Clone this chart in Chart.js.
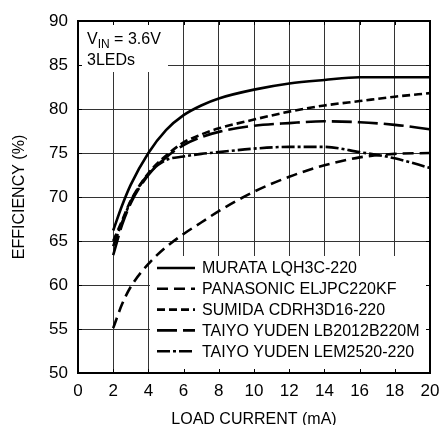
<!DOCTYPE html>
<html>
<head>
<meta charset="utf-8">
<script src="https://cdn.jsdelivr.net/npm/chart.js@4/dist/chart.umd.min.js"></script>
<style>
  html, body { margin: 0; padding: 0; background: #fff; }
  #wrap { width: 440px; height: 425px; }
</style>
</head>
<body>
<div id="wrap"><canvas id="c" width="440" height="425"></canvas></div>
<script>
// Load current (mA) at which each efficiency curve is sampled
const loadCurrent = [2, 2.5, 3, 4, 5, 6, 7, 8, 10, 12, 14, 16, 18, 20];

// Efficiency (%) for each inductor
const murata    = [66.2, 69.0, 71.4, 75.0, 77.6, 79.3, 80.4, 81.2, 82.2, 82.9, 83.3, 83.6, 83.6, 83.6];
const panasonic = [55.1, 57.8, 59.8, 62.4, 64.3, 65.8, 67.1, 68.4, 70.6, 72.3, 73.6, 74.5, 74.9, 75.0];
const sumida    = [65.0, 67.3, 69.6, 72.7, 74.7, 76.2, 77.1, 77.8, 78.8, 79.7, 80.4, 80.9, 81.4, 81.8];
const taiyoLB   = [63.4, 66.8, 69.3, 72.5, 74.5, 75.9, 76.8, 77.4, 78.1, 78.4, 78.6, 78.5, 78.2, 77.7];
const taiyoLEM  = [64.4, 67.1, 69.5, 72.6, 74.2, 74.6, 74.9, 75.1, 75.5, 75.7, 75.7, 75.1, 74.4, 73.3];

const seriesNames = [
  'MURATA LQH3C-220',
  'PANASONIC ELJPC220KF',
  'SUMIDA CDRH3D16-220',
  'TAIYO YUDEN LB2012B220M',
  'TAIYO YUDEN LEM2520-220'
];

// Axis ticks
const xTicks = [0, 2, 4, 6, 8, 10, 12, 14, 16, 18, 20];
const yTicks = [50, 55, 60, 65, 70, 75, 80, 85, 90];

const FONT = '"Liberation Sans", Arial, Helvetica, sans-serif';

const seriesValues = [murata, panasonic, sumida, taiyoLB, taiyoLEM];
const dashes = [[], [11, 6], [8, 4], [20, 6], [13, 3, 3, 3]];

const datasets = seriesValues.map((vals, i) => ({
  label: seriesNames[i],
  data: loadCurrent.map((x, k) => ({ x: x, y: vals[k] })),
  borderColor: '#000',
  borderWidth: 2.6,
  borderDash: dashes[i],
  borderCapStyle: 'butt',
  pointRadius: 0,
  fill: false,
  cubicInterpolationMode: 'monotone'
}));

// White panels, inner tick marks and the plot frame, drawn over the grid
const framePlugin = {
  id: 'frame',
  beforeDatasetsDraw(chart) {
    const { ctx, chartArea: a, scales: { x, y } } = chart;
    ctx.save();
    ctx.fillStyle = '#fff';
    // note panel (top left)
    ctx.fillRect(a.left, a.top, 90, 51);
    // legend panel (bottom right)
    ctx.fillRect(150, 256, a.right - 150, a.bottom - 256);

    ctx.strokeStyle = '#000';
    ctx.lineWidth = 1;
    const t = 4;
    ctx.beginPath();
    xTicks.forEach(v => {
      const px = Math.round(x.getPixelForValue(v)) + 0.5;
      ctx.moveTo(px, a.bottom); ctx.lineTo(px, a.bottom - t);
      ctx.moveTo(px, a.top); ctx.lineTo(px, a.top + t);
    });
    yTicks.forEach(v => {
      const py = Math.round(y.getPixelForValue(v)) + 0.5;
      ctx.moveTo(a.left, py); ctx.lineTo(a.left + t, py);
      ctx.moveTo(a.right, py); ctx.lineTo(a.right - t, py);
    });
    ctx.stroke();

    ctx.lineWidth = 2;
    ctx.strokeRect(a.left, a.top, a.right - a.left, a.bottom - a.top);
    ctx.restore();
  },
  afterDatasetsDraw(chart) {
    const { ctx } = chart;
    ctx.save();
    ctx.fillStyle = '#000';
    ctx.textBaseline = 'alphabetic';
    ctx.textAlign = 'left';

    // Test condition note
    let tx = 87;
    ctx.font = '16px ' + FONT;
    ctx.fillText('V', tx, 44);
    tx += ctx.measureText('V').width;
    ctx.font = '12px ' + FONT;
    ctx.fillText('IN', tx, 48);
    tx += ctx.measureText('IN').width;
    ctx.font = '16px ' + FONT;
    ctx.fillText(' = 3.6V', tx, 44);
    ctx.fillText('3LEDs', 87, 65);

    // Legend
    chart.data.datasets.forEach((ds, i) => {
      const cy = 268 + i * 20.8;
      ctx.beginPath();
      ctx.setLineDash(ds.borderDash);
      ctx.lineWidth = 2.6;
      ctx.strokeStyle = '#000';
      ctx.moveTo(157, cy);
      ctx.lineTo(195, cy);
      ctx.stroke();
      ctx.setLineDash([]);
      ctx.textBaseline = 'middle';
      ctx.font = '16px ' + FONT;
      ctx.fillText(ds.label, 202, cy + 1);
    });
    ctx.restore();
  }
};

new Chart(document.getElementById('c'), {
  type: 'line',
  data: { datasets: datasets },
  plugins: [framePlugin],
  options: {
    responsive: false,
    animation: false,
    layout: { padding: { top: 21, right: 10, left: 0, bottom: 0 } },
    plugins: { legend: { display: false }, tooltip: { enabled: false } },
    scales: {
      x: {
        type: 'linear',
        min: 0, max: 20,
        afterBuildTicks: s => { s.ticks = xTicks.map(v => ({ value: v })); },
        afterFit: s => { s.height = 52; s.paddingRight = 0; s.paddingLeft = 0; },
        grid: { color: '#333', lineWidth: 1, drawTicks: false },
        border: { display: false },
        ticks: { color: '#000', padding: 8, font: { family: FONT, size: 17 } },
        title: {
          display: true, text: 'LOAD CURRENT (mA)', color: '#000',
          font: { family: FONT, size: 16, lineHeight: 1 },
          padding: { top: 0, bottom: -3 }
        }
      },
      y: {
        type: 'linear',
        min: 50, max: 90,
        afterBuildTicks: s => { s.ticks = yTicks.map(v => ({ value: v })); },
        afterFit: s => { s.width = 78; },
        grid: { color: '#333', lineWidth: 1, drawTicks: false },
        border: { display: false },
        ticks: { color: '#000', padding: 10, font: { family: FONT, size: 17 } },
        title: {
          display: true, text: 'EFFICIENCY (%)', color: '#000',
          font: { family: FONT, size: 16, lineHeight: 1.2 },
          padding: { top: 10, bottom: 0 }
        }
      }
    }
  }
});
</script>
</body>
</html>
